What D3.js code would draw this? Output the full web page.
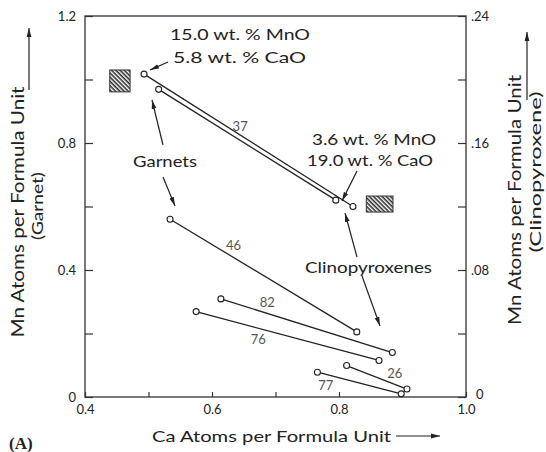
<!DOCTYPE html>
<html>
<head>
<meta charset="utf-8">
<script src="https://cdn.jsdelivr.net/npm/d3@7"></script>
<style>
  html, body { margin: 0; padding: 0; background: #fff; }
  svg { display: block; }
  text { font-family: "Lato", "DejaVu Sans", sans-serif; fill: #222; }
</style>
</head>
<body>
<svg id="chart" width="546" height="452"></svg>
<script>
// Coexisting garnet / clinopyroxene pairs: Mn vs Ca atoms per formula unit.
// Garnet Mn is read on the left axis, clinopyroxene Mn on the right axis.
const sampleIds = ["37", "37", "46", "82", "76", "26", "77"];
const garnetCa  = [0.493, 0.516, 0.534, 0.614, 0.575, 0.812, 0.766];
const garnetMn  = [1.017, 0.969, 0.560, 0.309, 0.269, 0.099, 0.078];
const cpxCa     = [0.822, 0.795, 0.828, 0.884, 0.863, 0.907, 0.898];
const cpxMn     = [0.120, 0.124, 0.041, 0.028, 0.023, 0.005, 0.002];

// Hatched fields for the pure end-member compositions
const garnetFieldCa = [0.439, 0.471];
const garnetFieldMn = [0.961, 1.030];
const cpxFieldCa    = [0.843, 0.885];
const cpxFieldMn    = [0.1165, 0.1266];

// Tick values and labels
const caTicks      = [0.4, 0.5, 0.6, 0.7, 0.8, 0.9, 1.0];
const caLabels     = ["0.4", "", "0.6", "", "0.8", "", "1.0"];
const garnetTicks  = [0, 0.2, 0.4, 0.6, 0.8, 1.0, 1.2];
const garnetLabels = ["0", "", "0.4", "", "0.8", "", "1.2"];
const cpxTicks     = [0, 0.04, 0.08, 0.12, 0.16, 0.20, 0.24];
const cpxLabels    = ["0", "", ".08", "", ".16", "", ".24"];

const svg = d3.select("#chart");
const plotL = 85, plotR = 466, plotT = 16, plotB = 397;

const x  = d3.scaleLinear([0.4, 1.0], [plotL, plotR]);
const yG = d3.scaleLinear([0, 1.2], [plotB, plotT]);
const yC = d3.scaleLinear([0, 0.24], [plotB, plotT]);

// Defs: hatch pattern and arrowheads
const defs = svg.append("defs");
const pat = defs.append("pattern")
  .attr("id", "hatch").attr("patternUnits", "userSpaceOnUse")
  .attr("width", 3).attr("height", 3)
  .attr("patternTransform", "rotate(45)");
pat.append("rect").attr("width", 3).attr("height", 3).attr("fill", "#fff");
pat.append("line").attr("x1", 0).attr("y1", 0.8).attr("x2", 3).attr("y2", 0.8)
  .attr("stroke", "#222").attr("stroke-width", 1.5);

defs.append("marker")
  .attr("id", "head").attr("markerUnits", "userSpaceOnUse")
  .attr("viewBox", "0 0 9 6").attr("markerWidth", 9).attr("markerHeight", 6)
  .attr("refX", 9).attr("refY", 3).attr("orient", "auto")
  .append("path").attr("d", "M0,0.6 L9,3 L0,5.4 Z").attr("fill", "#222");

// Frame
svg.append("rect")
  .attr("x", plotL).attr("y", plotT)
  .attr("width", plotR - plotL).attr("height", plotB - plotT)
  .attr("fill", "none").attr("stroke", "#333").attr("stroke-width", 1.3);

function styleAxis(g) {
  g.select(".domain").remove();
  g.selectAll(".tick line").attr("stroke", "#333").attr("stroke-width", 1.2);
  g.selectAll(".tick text")
    .attr("font-family", "Lato, 'DejaVu Sans', sans-serif")
    .attr("font-size", 13).attr("fill", "#333");
}

svg.append("g").attr("transform", `translate(0,${plotB})`)
  .call(d3.axisBottom(x).tickValues(caTicks)
    .tickFormat((d, i) => caLabels[i]).tickSizeInner(-5).tickSizeOuter(0).tickPadding(8))
  .call(styleAxis);

svg.append("g").attr("transform", `translate(${plotL},0)`)
  .call(d3.axisLeft(yG).tickValues(garnetTicks)
    .tickFormat((d, i) => garnetLabels[i]).tickSizeInner(-8).tickSizeOuter(0).tickPadding(9))
  .call(styleAxis);

const rightAxis = svg.append("g").attr("transform", `translate(${plotR},0)`)
  .call(d3.axisRight(yC).tickValues(cpxTicks)
    .tickFormat((d, i) => cpxLabels[i]).tickSizeInner(-8).tickSizeOuter(0).tickPadding(5))
  .call(styleAxis);
// lift the corner "0" clear of the "1.0" label below it
rightAxis.selectAll(".tick text").filter(d => d === 0)
  .attr("x", 10).attr("dy", "0.1em");

// Hatched end-member fields
svg.append("rect")
  .attr("x", x(garnetFieldCa[0])).attr("y", yG(garnetFieldMn[1]))
  .attr("width", x(garnetFieldCa[1]) - x(garnetFieldCa[0]))
  .attr("height", yG(garnetFieldMn[0]) - yG(garnetFieldMn[1]))
  .attr("fill", "url(#hatch)").attr("stroke", "#333").attr("stroke-width", 1);
svg.append("rect")
  .attr("x", x(cpxFieldCa[0])).attr("y", yC(cpxFieldMn[1]))
  .attr("width", x(cpxFieldCa[1]) - x(cpxFieldCa[0]))
  .attr("height", yC(cpxFieldMn[0]) - yC(cpxFieldMn[1]))
  .attr("fill", "url(#hatch)").attr("stroke", "#333").attr("stroke-width", 1);

// Tie lines between coexisting phases
const pairs = sampleIds.map((id, i) => ({
  id, gx: x(garnetCa[i]), gy: yG(garnetMn[i]), cx: x(cpxCa[i]), cy: yC(cpxMn[i])
}));

svg.append("g").selectAll("line").data(pairs).join("line")
  .attr("x1", d => d.gx).attr("y1", d => d.gy)
  .attr("x2", d => d.cx).attr("y2", d => d.cy)
  .attr("stroke", "#222").attr("stroke-width", 1.3);

const pts = pairs.flatMap(d => [[d.gx, d.gy], [d.cx, d.cy]]);
svg.append("g").selectAll("circle").data(pts).join("circle")
  .attr("cx", d => d[0]).attr("cy", d => d[1]).attr("r", 3)
  .attr("fill", "#fff").attr("stroke", "#222").attr("stroke-width", 1.1);

// Sample numbers placed along each tie line (fraction t, vertical offset dy)
const idPlacement = [
  { t: 0.46, dy: -4 }, null,
  { t: 0.34, dy: -8 }, { t: 0.27, dy: -6 }, { t: 0.34, dy: 16 },
  { t: 0.80, dy: -6 }, { t: 0.10, dy: 16 }
];
svg.append("g").selectAll("text")
  .data(pairs.map((d, i) => ({ d, p: idPlacement[i] })).filter(e => e.p))
  .join("text")
  .attr("x", e => e.d.gx + (e.d.cx - e.d.gx) * e.p.t)
  .attr("y", e => e.d.gy + (e.d.cy - e.d.gy) * e.p.t + e.p.dy)
  .attr("text-anchor", "middle").attr("font-size", 13).style("fill", "#555")
  .text(e => e.d.id);

// Text annotations
function label(txt, xPos, yPos, len, size) {
  svg.append("text").attr("x", xPos).attr("y", yPos)
    .attr("font-size", size)
    .attr("textLength", len).attr("lengthAdjust", "spacingAndGlyphs")
    .text(txt);
}
label("15.0 wt. % MnO", 170, 40, 140, 16);
label("5.8 wt. % CaO", 173, 63, 133, 16);
label("3.6 wt. % MnO", 312, 145, 124, 16);
label("19.0 wt. % CaO", 307, 166, 126, 16);
label("Garnets", 133, 167, 64, 16);
label("Clinopyroxenes", 305, 273, 127, 16);
label("Ca Atoms per Formula Unit", 152, 442, 239, 16);

function arrow(x1, y1, x2, y2) {
  svg.append("line").attr("x1", x1).attr("y1", y1).attr("x2", x2).attr("y2", y2)
    .attr("stroke", "#222").attr("stroke-width", 1.2).attr("marker-end", "url(#head)");
}
arrow(168, 62, 150, 70);
arrow(357, 171, 342, 201);
arrow(163, 145, 152, 100);
arrow(163, 177, 175, 206);
arrow(357, 257, 345, 213);
arrow(362, 276, 380, 326);
arrow(396, 436, 440, 436);
arrow(29, 90, 29, 28);
arrow(527, 100, 527, 32);

// Rotated axis titles
function vtitle(txt, xPos, yPos, len, size) {
  svg.append("text")
    .attr("transform", `translate(${xPos},${yPos}) rotate(-90)`)
    .attr("text-anchor", "middle").attr("font-size", size)
    .attr("textLength", len).attr("lengthAdjust", "spacingAndGlyphs")
    .text(txt);
}
vtitle("Mn Atoms per Formula Unit", 24, 212, 251, 17);
vtitle("(Garnet)", 43, 206, 68, 16);
vtitle("Mn Atoms per Formula Unit", 521, 200, 250, 17);
vtitle("(Clinopyroxene)", 541, 172, 161, 16);

// Panel letter
svg.append("text").attr("x", 9).attr("y", 449)
  .style("font-family", "'Liberation Serif', 'DejaVu Serif', serif")
  .attr("font-size", 17).attr("font-weight", "bold")
  .text("(A)");
</script>
</body>
</html>
